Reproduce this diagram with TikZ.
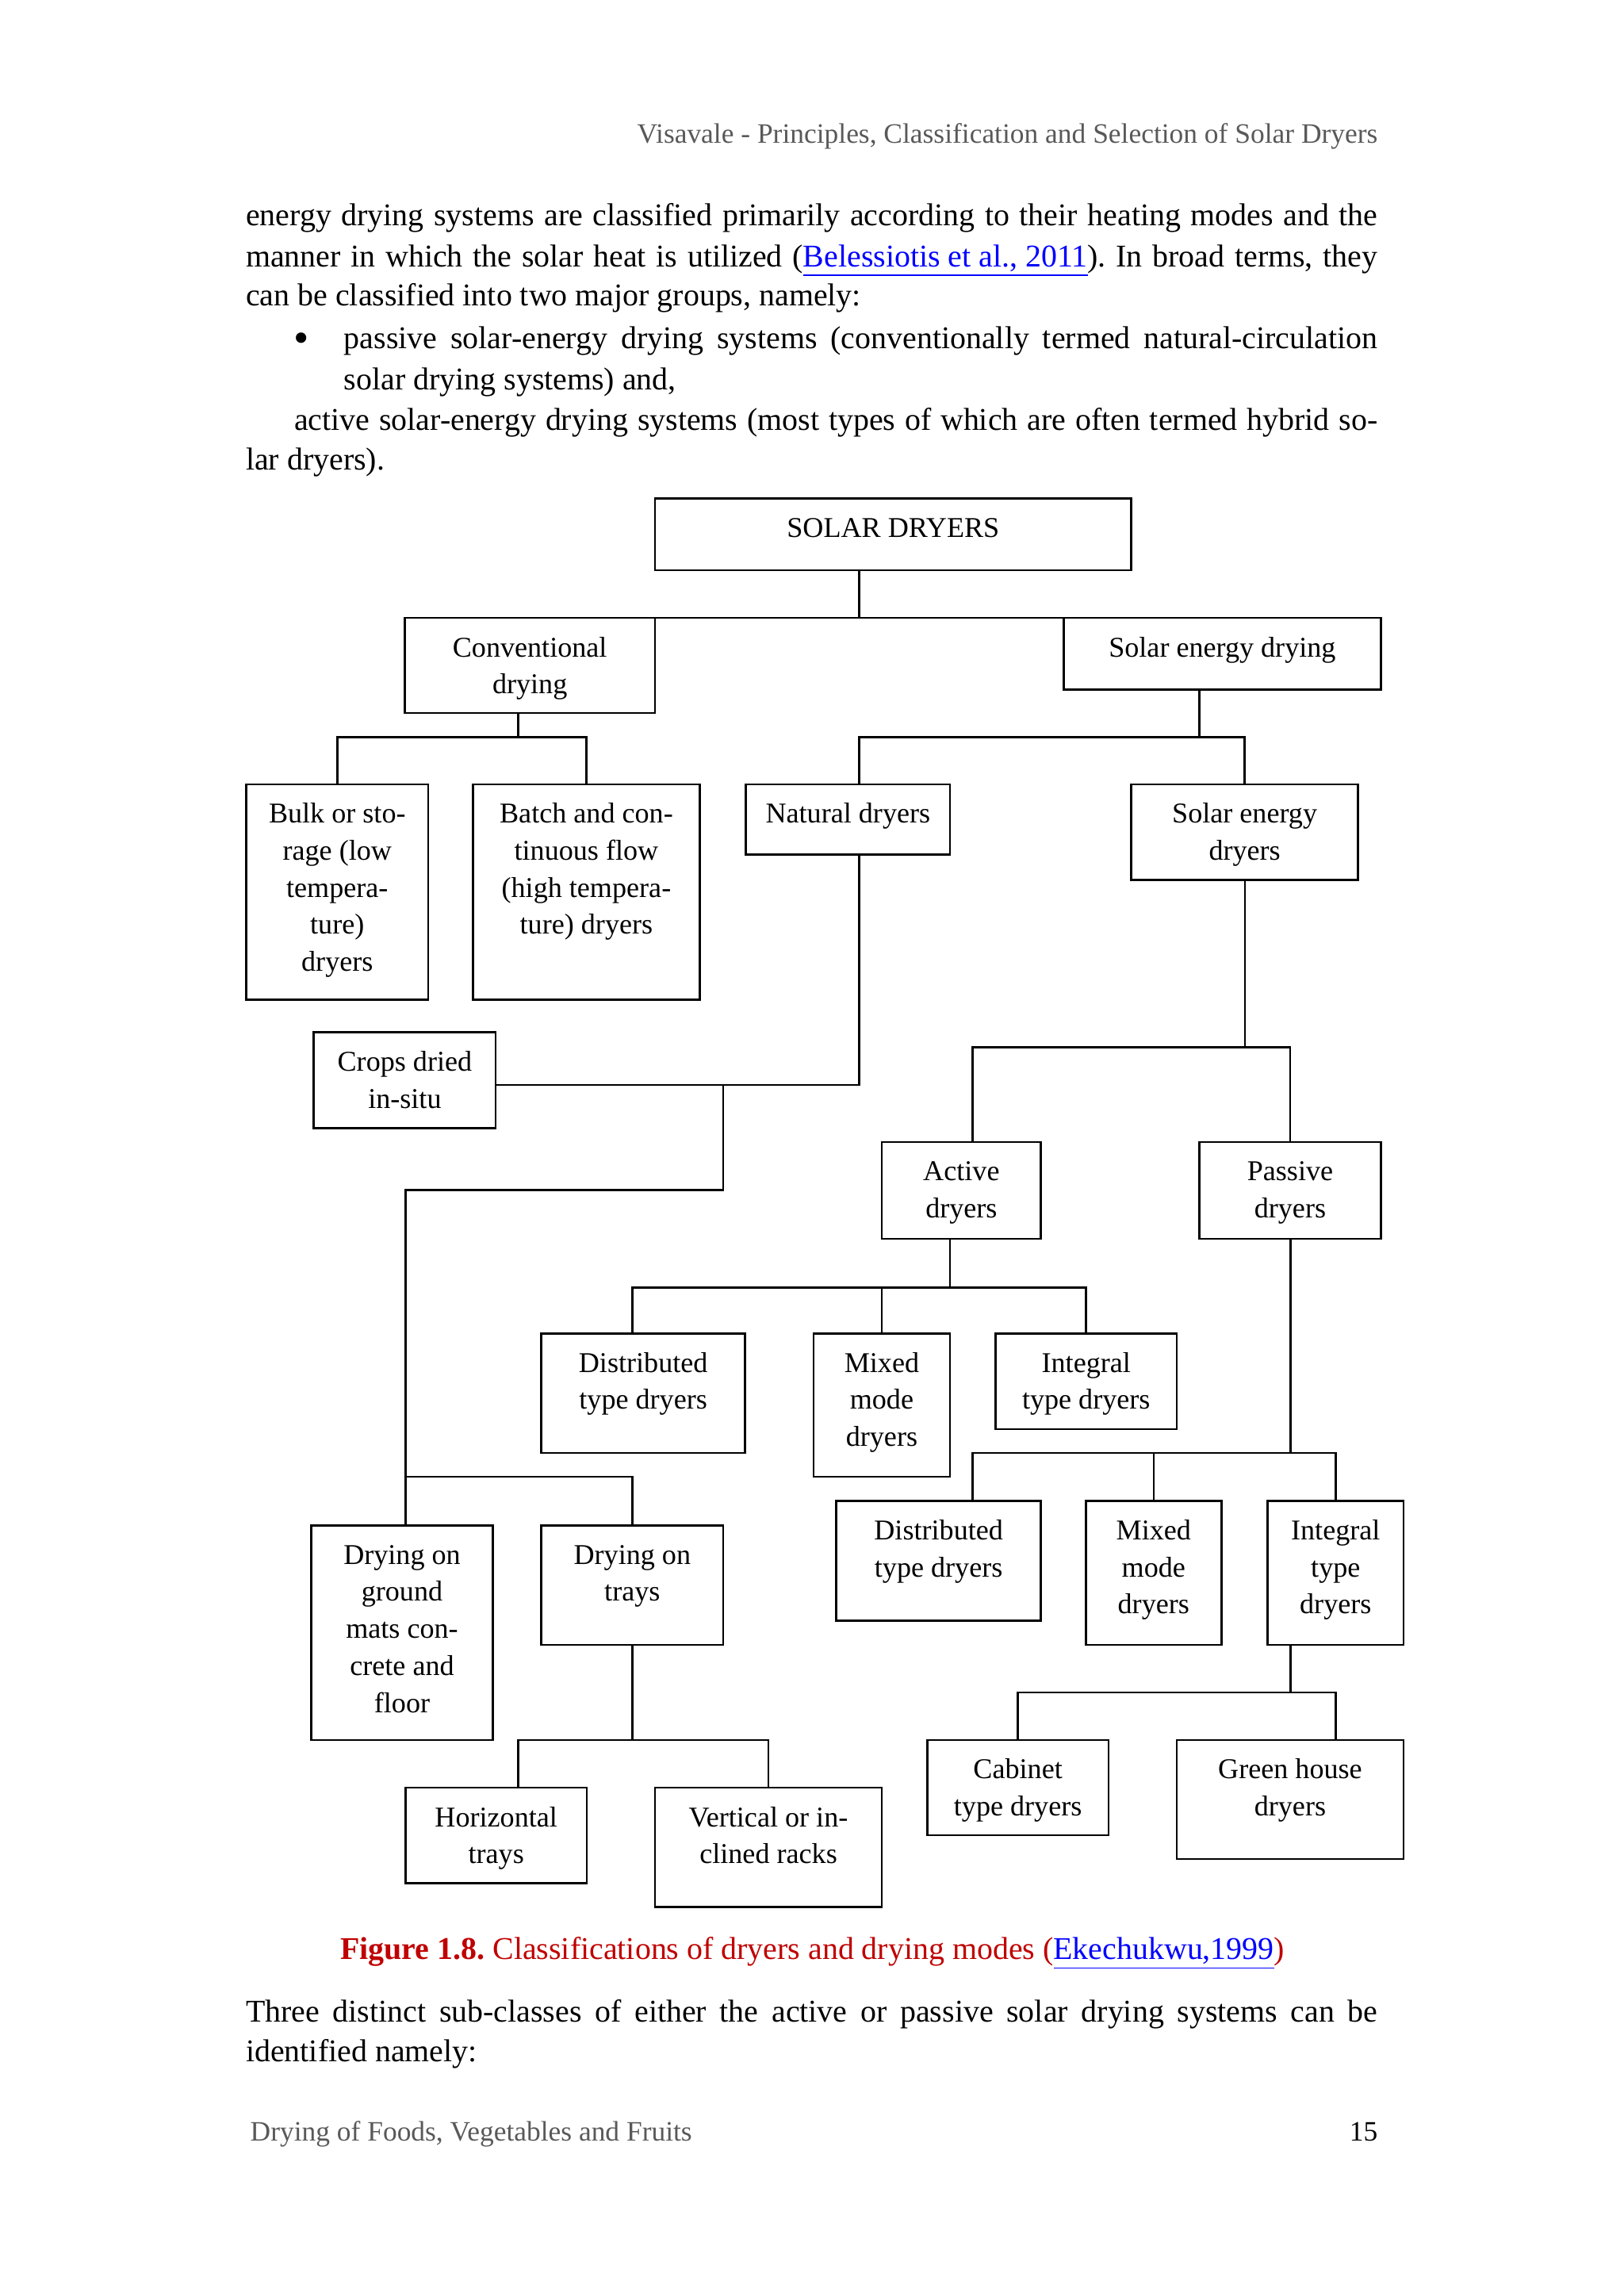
\documentclass[tikz,border=0pt]{standalone}
\usepackage{fontspec}
\setmainfont{Liberation Serif}
\frenchspacing
\definecolor{capred}{HTML}{C00000}
\definecolor{linkblue}{HTML}{0000FF}
\definecolor{hgray}{HTML}{595959}
\newcommand\diagfont{\fontsize{10.5}{13.58}\selectfont}
\newcommand\bodyfont{\fontsize{11.6}{14}\selectfont}
\newcommand\headfont{\fontsize{10.3}{12}\selectfont}
\tikzset{
  dbox/.style={draw, line width=0.75pt, inner sep=0pt, outer sep=0pt},
  conn/.style={draw, line width=0.75pt},
  txt/.style={inner sep=0pt, outer sep=0pt}
}
% name, x1, y1, x2, y2, text
\newcommand\mkbox[6]{%
  \pgfmathsetlengthmacro\bw{(#4-#2)*0.5367}%
  \pgfmathsetlengthmacro\bh{(#5-#3)*0.5367}%
  \node[dbox, anchor=north west] (#1) at (#2,#3)
    {\parbox[c][\bh][t]{\bw}{\centering\diagfont\rule{0pt}{14.2pt}#6\par}};%
}
% name, x, y(center), width, text
\newcommand\jline[5]{%
  \pgfmathsetlengthmacro\lw{#4*0.5367}%
  \node[txt, anchor=base west] (#1) at (#2,#3+7) {\bodyfont\makebox[\lw][s]{#5}};%
}
\begin{document}
\begin{tikzpicture}[x=0.5367pt,y=-0.5367pt]
\fill[white] (0,0) rectangle (1109.2,1568);
\useasboundingbox (0,0) rectangle (1109.2,1568);

% header
\node[txt, anchor=base east] (hdr) at (941,98) {\headfont\textcolor{hgray}{Visavale - Principles, Classification and Selection of Solar Dryers}};

% body text
\jline{l1}{168}{147}{773}{energy drying systems are classified primarily according to their heating modes and the}
\jline{l2}{168}{175}{773}{manner in which the solar heat is utilized (\textcolor{linkblue}{\underline{Belessiotis et al., 2011}}). In broad terms, they}
\node[txt, anchor=base west] (l3) at (168,209) {\bodyfont can be classified into two major groups, namely:};
\node[txt, anchor=base] (bul) at (206,241) {\fontsize{16}{16}\selectfont\textbullet};
\jline{l4}{235}{231}{706}{passive solar-energy drying systems (conventionally termed natural-circulation}
\node[txt, anchor=base west] (l5) at (235,266) {\bodyfont solar drying systems) and,};
\jline{l6}{201}{287}{740}{active solar-energy drying systems (most types of which are often termed hybrid so-}
\node[txt, anchor=base west] (l7) at (168,321) {\bodyfont lar dryers).};

% boxes
\mkbox{solar}{447.4}{340.5}{772.7}{389.5}{SOLAR DRYERS}
\mkbox{conv}{276.4}{422}{447.4}{487}{Conventional\\drying}
\mkbox{sed}{726.6}{422}{943.1}{471}{Solar energy drying}
\mkbox{bulk}{168.2}{535.6}{292.5}{682.7}{Bulk or sto-\\rage (low\\tempera-\\ture)\\dryers}
\mkbox{batch}{323.1}{535.6}{477.9}{682.7}{Batch and con-\\tinuous flow\\(high tempera-\\ture) dryers}
\mkbox{natural}{509.5}{535.6}{648.9}{583.5}{Natural dryers}
\mkbox{sedry}{772.7}{535.6}{927.6}{601}{Solar energy\\dryers}
\mkbox{crops}{214.3}{705}{338.6}{770.4}{Crops dried\\in-situ}
\mkbox{active}{602.3}{780}{711}{846}{Active\\dryers}
\mkbox{passive}{819.3}{780}{943.1}{846}{Passive\\dryers}
\mkbox{distA}{369.7}{910.6}{509}{992.3}{Distributed\\type dryers}
\mkbox{mixA}{555.6}{910.6}{648.9}{1008.5}{Mixed\\mode\\dryers}
\mkbox{intA}{680}{910.6}{803.8}{976}{Integral\\type dryers}
\mkbox{distP}{571.2}{1025}{711}{1106.8}{Distributed\\type dryers}
\mkbox{mixP}{741.6}{1025}{834.3}{1123.2}{Mixed\\mode\\dryers}
\mkbox{intP}{865.9}{1025}{958.6}{1123.2}{Integral\\type\\dryers}
\mkbox{ground}{212.7}{1041.7}{336.5}{1188.3}{Drying on\\ground\\mats con-\\crete and\\floor}
\mkbox{trays}{369.7}{1041.7}{494}{1123.2}{Drying on\\trays}
\mkbox{cabinet}{633.3}{1188.3}{757.2}{1253.4}{Cabinet\\type dryers}
\mkbox{green}{803.8}{1188.3}{958.6}{1269.6}{Green house\\dryers}
\mkbox{htrays}{277}{1220.9}{400.8}{1286}{Horizontal\\trays}
\mkbox{racks}{447.4}{1220.9}{602.3}{1302.3}{Vertical or in-\\clined racks}

% junction coordinates
\coordinate (jA) at (586.7,422);
\coordinate (jC) at (354.1,503.3);
\coordinate (jS) at (819.3,503.3);
\coordinate (nx) at (586.7,503.3);
\coordinate (nj) at (586.7,741);
\coordinate (gj) at (494,741);
\coordinate (g1) at (494,812.7);
\coordinate (g2) at (277,812.7);
\coordinate (t1) at (277,1008.5);
\coordinate (s1) at (850.4,715.3);
\coordinate (ax) at (664.4,715.3);
\coordinate (a1) at (648.9,879.2);
\coordinate (dax) at (431.8,879.2);
\coordinate (pj) at (881.5,992.3);
\coordinate (dpx) at (664.4,992.3);
\coordinate (ij) at (881.5,1155.7);
\coordinate (gx) at (912.5,1155.7);
\coordinate (tj) at (431.8,1188.3);
\coordinate (hx) at (354.1,1188.3);

% connectors
\draw[conn] (solar.south -| jA) -- (jA);
\draw[conn] (conv.north east) -- (sed.north west);
\draw[conn] (conv.south -| jC) -- (jC);
\draw[conn] (bulk.north) |- (batch.north |- jC) -- (batch.north);
\draw[conn] (sed.south -| jS) -- (jS);
\draw[conn] (natural.north -| nx) -- (nx) -- (sedry.north |- nx) -- (sedry.north);
\draw[conn] (natural.south -| nj) -- (nj) -- (nj -| crops.east);
\draw[conn] (gj) -- (g1) -- (g2) -- (ground.north -| g2);
\draw[conn] (t1) -- (trays.north |- t1) -- (trays.north);
\draw[conn] (sedry.south -| s1) -- (s1);
\draw[conn] (active.north -| ax) -- (ax) -- (passive.north |- ax) -- (passive.north);
\draw[conn] (active.south -| a1) -- (a1);
\draw[conn] (distA.north -| dax) -- (dax) -- (intA.north |- dax) -- (intA.north);
\draw[conn] (mixA.north) -- (mixA.north |- dax);
\draw[conn] (passive.south -| pj) -- (pj);
\draw[conn] (distP.north -| dpx) -- (dpx) -- (intP.north |- dpx) -- (intP.north);
\draw[conn] (mixP.north) -- (mixP.north |- dpx);
\draw[conn] (intP.south -| ij) -- (ij);
\draw[conn] (cabinet.north) |- (gx) -- (green.north -| gx);
\draw[conn] (trays.south -| tj) -- (tj);
\draw[conn] (htrays.north -| hx) -- (hx) -- (racks.north |- hx) -- (racks.north);

% caption
\node[txt, anchor=base] (cap) at (555,1338) {\bodyfont\textcolor{capred}{\textbf{Figure 1.8.} Classifications of dryers and drying modes (}\textcolor{linkblue}{\underline{Ekechukwu,1999}}\textcolor{capred}{)}};

% text after figure
\jline{l8}{168}{1374}{773}{Three distinct sub-classes of either the active or passive solar drying systems can be}
\node[txt, anchor=base west] (l9) at (168,1408) {\bodyfont identified namely:};

% footer
\node[txt, anchor=base west] (ftr) at (171,1462) {\headfont\textcolor{hgray}{Drying of Foods, Vegetables and Fruits}};
\node[txt, anchor=base east] (pg) at (941,1462) {\headfont 15};
\end{tikzpicture}
\end{document}
